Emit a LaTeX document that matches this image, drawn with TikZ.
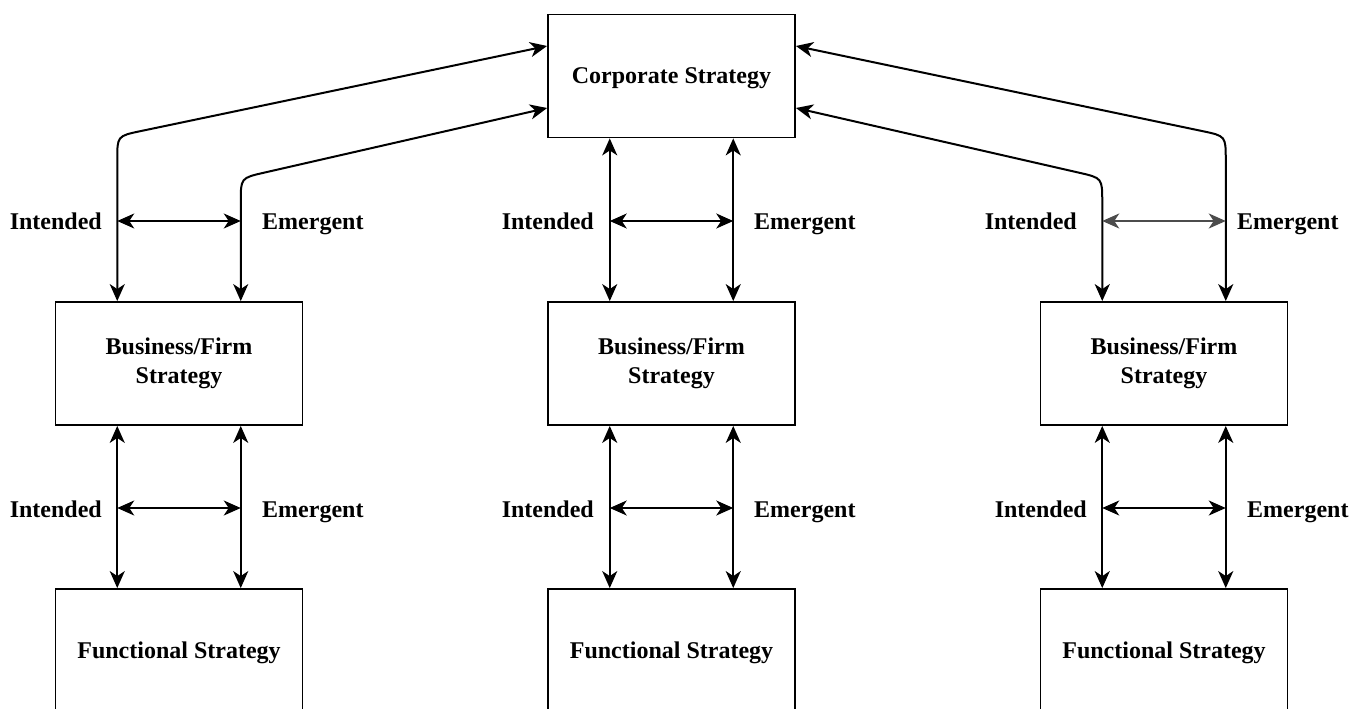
\documentclass[tikz,border=0pt]{standalone}
\usepackage{fontspec}
\setmainfont{Liberation Serif}
\usetikzlibrary{arrows.meta,calc}
\newcommand\diagfont{\fontsize{24}{28.5}\selectfont\bfseries}
\begin{document}
\begin{tikzpicture}[x=1pt,y=-1pt,
  box/.style={draw, line width=1.8pt, minimum width=247pt, minimum height=123pt,
              align=center, font=\diagfont, inner sep=0pt},
  onebox/.style={box, text depth=0pt},
  headtip/.tip={Stealth[length=17pt,width=15pt,inset=5pt]},
  link/.style={line width=2pt, headtip-headtip},
  lab/.style={font=\diagfont, inner sep=0pt}]
\clip (0,0) rectangle (1365,709);

% boxes
\node[onebox] (corp) at (671.5,76) {Corporate Strategy};
\node[box] (b1) at (179,363.5) {Business/Firm\\Strategy};
\node[box] (b2) at (671.5,363.5) {Business/Firm\\Strategy};
\node[box] (b3) at (1164,363.5) {Business/Firm\\Strategy};
\node[onebox] (f1) at (179,650.5) {Functional Strategy};
\node[onebox] (f2) at (671.5,650.5) {Functional Strategy};
\node[onebox] (f3) at (1164,650.5) {Functional Strategy};

% ports on the corporate box
\coordinate (cwu) at ([yshift=30pt]corp.west);
\coordinate (cwl) at ([yshift=-32pt]corp.west);
\coordinate (ceu) at ([yshift=30pt]corp.east);
\coordinate (cel) at ([yshift=-32pt]corp.east);

% bends of the slanted links
\coordinate (w1) at (117.25,136);
\coordinate (w2) at (240.75,178);
\coordinate (w3) at (1225.75,136);
\coordinate (w4) at (1102.25,178);

% corporate to business (rounded bend drawn as a curve)
\draw[link] ([xshift=-61.75pt]b1.north) -- ([yshift=-24pt]w1)
  .. controls (w1) .. ($(w1)!24pt!(cwu)$) -- (cwu);
\draw[link] ([xshift=61.75pt]b1.north) -- ([yshift=-24pt]w2)
  .. controls (w2) .. ($(w2)!24pt!(cwl)$) -- (cwl);
\draw[link] ([xshift=-61.75pt]corp.south) -- ([xshift=-61.75pt]b2.north);
\draw[link] ([xshift=61.75pt]corp.south) -- ([xshift=61.75pt]b2.north);
\draw[link] ([xshift=61.75pt]b3.north) -- ([yshift=-24pt]w3)
  .. controls (w3) .. ($(w3)!24pt!(ceu)$) -- (ceu);
\draw[link] ([xshift=-61.75pt]b3.north) -- ([yshift=-24pt]w4)
  .. controls (w4) .. ($(w4)!24pt!(cel)$) -- (cel);

% business to functional
\foreach \b/\f in {b1/f1,b2/f2,b3/f3}{
  \draw[link] ([xshift=-61.75pt]\b.south) -- ([xshift=-61.75pt]\f.north);
  \draw[link] ([xshift=61.75pt]\b.south) -- ([xshift=61.75pt]\f.north);
}

% cross links between intended and emergent
\coordinate (i1) at (117.25,221);   \coordinate (e1) at (240.75,221);
\coordinate (i2) at (609.75,221);   \coordinate (e2) at (733.25,221);
\coordinate (i3) at (1102.25,221);  \coordinate (e3) at (1225.75,221);
\coordinate (i4) at (117.25,508);   \coordinate (e4) at (240.75,508);
\coordinate (i5) at (609.75,508);   \coordinate (e5) at (733.25,508);
\coordinate (i6) at (1102.25,508);  \coordinate (e6) at (1225.75,508);
\draw[link] (i1) -- (e1);
\draw[link] (i2) -- (e2);
\draw[link, black!70] (i3) -- (e3);
\draw[link] (i4) -- (e4);
\draw[link] (i5) -- (e5);
\draw[link] (i6) -- (e6);

% labels
\node[lab, anchor=base east] (li1) at (102,229) {Intended};
\node[lab, anchor=base west] (le1) at (262,229) {Emergent};
\node[lab, anchor=base east] (li2) at (594,229) {Intended};
\node[lab, anchor=base west] (le2) at (754,229) {Emergent};
\node[lab, anchor=base east] (li3) at (1077,229) {Intended};
\node[lab, anchor=base west] (le3) at (1237,229) {Emergent};
\node[lab, anchor=base east] (li4) at (102,517) {Intended};
\node[lab, anchor=base west] (le4) at (262,517) {Emergent};
\node[lab, anchor=base east] (li5) at (594,517) {Intended};
\node[lab, anchor=base west] (le5) at (754,517) {Emergent};
\node[lab, anchor=base east] (li6) at (1087,517) {Intended};
\node[lab, anchor=base west] (le6) at (1247,517) {Emergent};
\end{tikzpicture}
\end{document}
